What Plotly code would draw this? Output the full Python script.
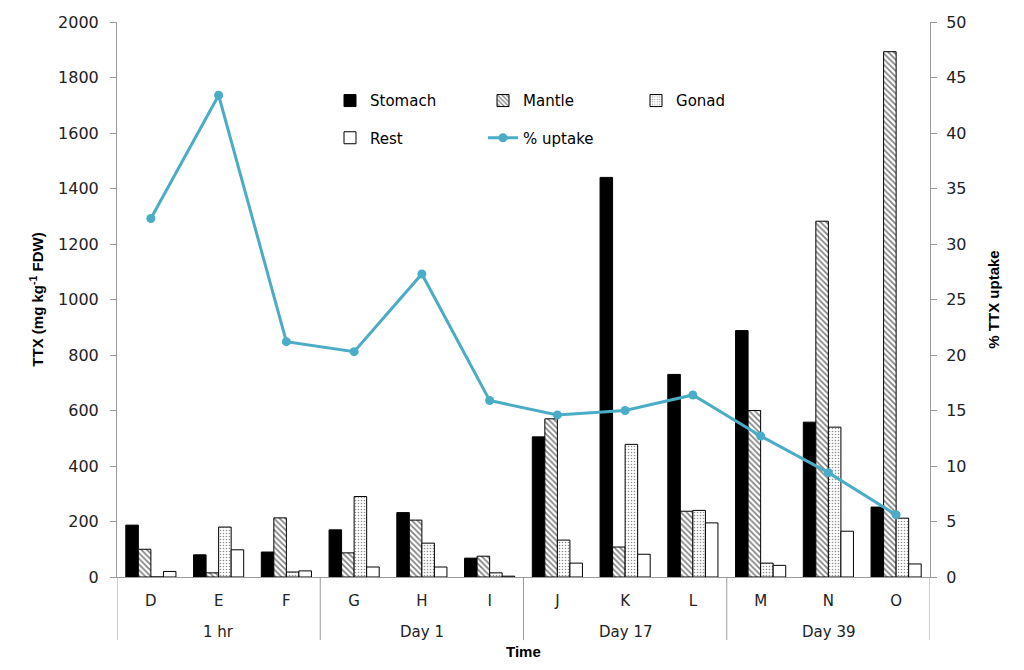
import plotly.graph_objects as go

# sampling time groups and squid labels
group_names = ["1 hr", "Day 1", "Day 17", "Day 39"]
group_middle = ["E", "H", "K", "N"]
letters = ["D", "E", "F", "G", "H", "I", "J", "K", "L", "M", "N", "O"]

# TTX concentration per tissue (mg kg-1 FDW)
stomach = [187, 80, 90, 170, 232, 68, 505, 1440, 730, 888, 558, 252]
mantle = [100, 15, 213, 87, 205, 75, 570, 108, 237, 600, 1282, 1893]
gonad = [0, 180, 18, 290, 122, 15, 133, 478, 240, 50, 540, 212]
rest = [20, 98, 22, 36, 36, 3, 50, 82, 195, 42, 165, 47]

# percentage of dose taken up
uptake = [32.3, 43.4, 21.2, 20.3, 27.3, 15.9, 14.6, 15.0, 16.4, 12.7, 9.4, 5.6]

outline = dict(color="black", width=1)
axis_grey = "#9a9a9a"

fig = go.Figure()
fig.add_trace(go.Bar(x=letters, y=stomach, name="Stomach", legend="legend",
                     marker=dict(color="black", line=outline)))
fig.add_trace(go.Bar(x=letters, y=mantle, name="Mantle", legend="legend",
                     marker=dict(color="white", line=outline,
                                 pattern=dict(shape="\\", fgcolor="black", bgcolor="white",
                                              size=4, solidity=0.4))))
fig.add_trace(go.Bar(x=letters, y=gonad, name="Gonad", legend="legend",
                     marker=dict(color="white", line=outline,
                                 pattern=dict(shape=".", fgcolor="#222", bgcolor="white",
                                              size=3, solidity=0.22))))
fig.add_trace(go.Bar(x=letters, y=rest, name="Rest", legend="legend2",
                     marker=dict(color="white", line=outline)))
fig.add_trace(go.Scatter(x=letters, y=uptake, name="% uptake", yaxis="y2", legend="legend2",
                         mode="lines+markers",
                         line=dict(color="#4BACC6", width=3),
                         marker=dict(color="#4BACC6", size=9)))

tick_font = dict(family="DejaVu Sans", size=15, color="#222")
ytick_font = dict(family="DejaVu Sans", size=16, color="#222")
title_font = dict(family="Liberation Sans Narrow, Liberation Sans", size=15, color="black")
legend_font = dict(family="DejaVu Sans", size=15, color="black")

# group labels under the letters, and the Excel-style divider lines
for name, mid in zip(group_names, group_middle):
    fig.add_annotation(x=mid, y=-0.099, xref="x", yref="paper", text=name,
                       showarrow=False, font=tick_font, yanchor="middle")
for pos in [-0.5, 2.5, 5.5, 8.5, 11.5]:
    fig.add_shape(type="line", xref="x", yref="paper", x0=pos, x1=pos, y0=0, y1=-0.1135,
                  line=dict(color=axis_grey, width=1))
fig.add_annotation(x=0.5, y=-0.135, xref="paper", yref="paper", text="<b>Time</b>",
                   showarrow=False, yanchor="middle",
                   font=dict(family="Liberation Sans", size=15, color="black"))

fig.update_layout(
    width=1008, height=654,
    margin=dict(l=109, r=86, t=14, b=85),
    paper_bgcolor="white", plot_bgcolor="white",
    barmode="group", bargap=0.26, bargroupgap=0,
    xaxis=dict(type="category", range=[-0.5, 11.5], showline=True, linecolor=axis_grey,
               ticks="", tickfont=tick_font, ticklabelstandoff=10, automargin=False),
    yaxis=dict(range=[0, 2000], dtick=200, showgrid=False, showline=True, linecolor=axis_grey,
               ticks="outside", ticklen=6, tickcolor=axis_grey, tickfont=ytick_font,
               ticklabelstandoff=8, zeroline=False, automargin=False,
               title=dict(text="<b>TTX (mg kg<sup>-1</sup> FDW)</b>", font=title_font, standoff=10)),
    yaxis2=dict(range=[0, 50], dtick=5, overlaying="y", side="right", showgrid=False,
                showline=True, linecolor=axis_grey, ticks="outside", ticklen=6, tickcolor=axis_grey,
                tickfont=ytick_font, ticklabelstandoff=6, zeroline=False, automargin=False,
                title=dict(text="<b>% TTX uptake</b>", font=title_font, standoff=22)),
    legend=dict(orientation="h", x=0.262, y=0.858, xanchor="left", yanchor="middle",
                entrywidth=108, font=legend_font, bgcolor="rgba(0,0,0,0)", traceorder="normal"),
    legend2=dict(orientation="h", x=0.262, y=0.791, xanchor="left", yanchor="middle",
                 entrywidth=108, font=legend_font, bgcolor="rgba(0,0,0,0)", traceorder="normal"),
)

fig.write_html("out.html")
